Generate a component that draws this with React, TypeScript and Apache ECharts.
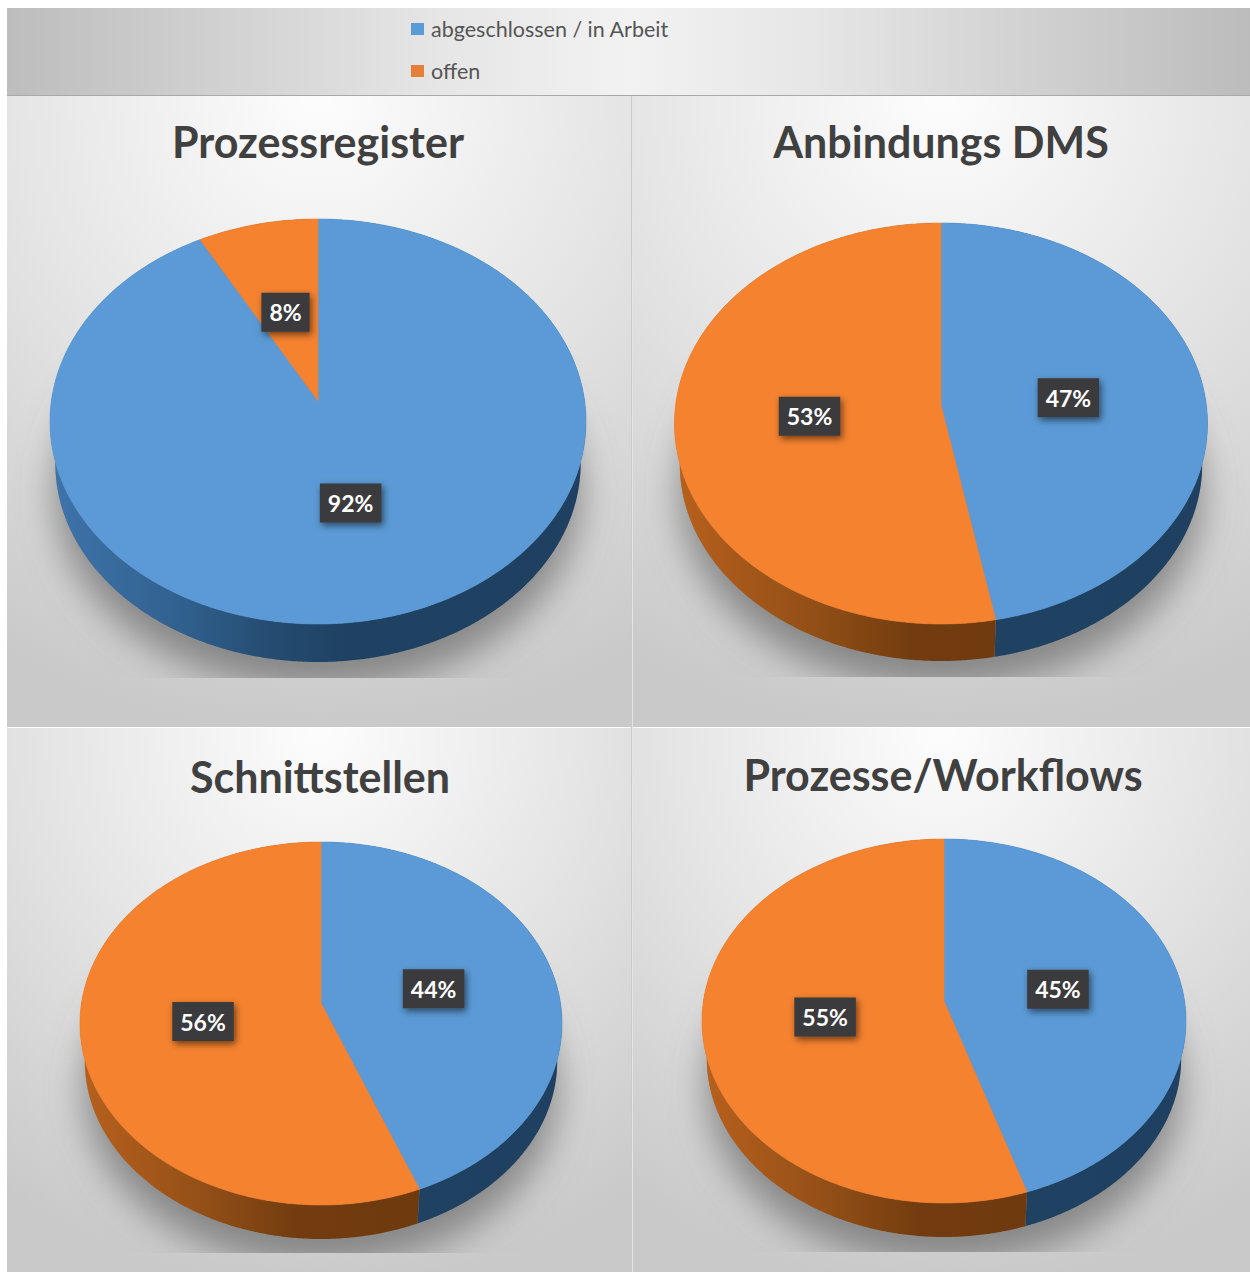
import React, { useEffect, useRef } from "react";
import * as echarts from "echarts";

// Chart content
const categories = ["Prozessregister", "Anbindungs DMS", "Schnittstellen", "Prozesse/Workflows"];
const seriesNames = ["abgeschlossen / in Arbeit", "offen"];
const doneValues = [92, 47, 44, 45];
const openValues = [8, 53, 56, 55];

// Pie geometry in page pixels: centre column, half width, back edge, front edge,
// vanishing hub of the slices, rim depth and the y where the cast shadow stops.
const pieLayout = [
  { cx: 318, rx: 268, back: 219, front: 624, hub: 401, depth: 38, shadowEnd: 678, titleX: 318, titleY: 120 },
  { cx: 941, rx: 266.5, back: 223, front: 624, hub: 405, depth: 37, shadowEnd: 677, titleX: 941, titleY: 120 },
  { cx: 321, rx: 241, back: 842, front: 1205, hub: 1003, depth: 34, shadowEnd: 1253, titleX: 320, titleY: 755 },
  { cx: 944, rx: 242, back: 839, front: 1203, hub: 1001, depth: 34, shadowEnd: 1252, titleX: 943, titleY: 753 },
];

const FONT = "Lato, 'Open Sans', sans-serif";
const BLUE = "#5b9ad6";
const ORANGE = "#f5822f";
const LOWER_SCALE = 0.98;

type Pie = (typeof pieLayout)[number];

// Tilted-disc projection: front edge is nearer the viewer than the back edge.
function projector(p: Pie) {
  const far = p.hub - p.back;
  const near = p.front - p.hub;
  const k = (near - far) / (near + far);
  const b = far * (1 + k);
  const a = p.rx * Math.sqrt(1 - k * k);
  const face = (theta: number, r = 1): [number, number] => {
    const u = r * Math.sin(theta);
    const v = -r * Math.cos(theta);
    const w = 1 - k * v;
    return [p.cx + (a * u) / w, p.hub + (b * v) / w];
  };
  const lift = p.depth + near * (1 - LOWER_SCALE);
  const lower = (theta: number): [number, number] => {
    const [x, y] = face(theta);
    return [p.cx + (x - p.cx) * LOWER_SCALE, p.hub + (y - p.hub) * LOWER_SCALE + lift];
  };
  return { face, lower };
}

function sweep(from: number, to: number) {
  const n = Math.max(2, Math.ceil(Math.abs(to - from) / (Math.PI / 360)));
  const out: number[] = [];
  for (let i = 0; i <= n; i++) out.push(from + ((to - from) * i) / n);
  return out;
}

function rimFill(p: Pie, statusIndex: number) {
  const stops =
    statusIndex === 0
      ? [
          { offset: 0, color: "#3f74ab" },
          { offset: 0.25, color: "#30608d" },
          { offset: 0.42, color: "#244b70" },
          { offset: 0.55, color: "#1f4263" },
          { offset: 1, color: "#1f4060" },
        ]
      : [
          { offset: 0, color: "#b8601d" },
          { offset: 0.25, color: "#945017" },
          { offset: 0.45, color: "#723c0f" },
          { offset: 1, color: "#6a370c" },
        ];
  return new echarts.graphic.LinearGradient(p.cx - p.rx, 0, p.cx + p.rx, 0, stops, true);
}

function pieSliceRenderer(p: Pie, statusIndex: number, total: number) {
  const { face, lower } = projector(p);
  const color = statusIndex === 0 ? BLUE : ORANGE;
  return (_params: any, api: any) => {
    const value = api.value(0);
    const start = api.value(1);
    const a0 = (start / total) * Math.PI * 2;
    const a1 = ((start + value) / total) * Math.PI * 2;
    const thetas = sweep(a0, a1);
    const rimTop = thetas.map((t) => face(t));
    const rimBottom = thetas.map((t) => lower(t)).reverse();
    const mid = (a0 + a1) / 2;
    const [lx, ly] = face(mid, 0.49);
    const children: any[] = [];
    if (statusIndex === 0) {
      children.push({
        type: "polygon",
        z2: 1,
        shape: { points: sweep(0, Math.PI * 2).map((t) => lower(t)) },
        style: {
          fill: "#8d8d8d",
          shadowBlur: 36,
          shadowColor: "rgba(110,110,110,0.75)",
          shadowOffsetY: 28,
        },
        clipPath: {
          type: "rect",
          shape: { x: p.cx - p.rx - 60, y: p.back, width: p.rx * 2 + 120, height: p.shadowEnd - p.back },
        },
      });
    }
    children.push({
      type: "polygon",
      z2: 2,
      shape: { points: [...rimTop, ...rimBottom] },
      style: { fill: rimFill(p, statusIndex) },
    });
    children.push({
      type: "polygon",
      z2: 3 + statusIndex,
      shape: { points: [face(0, 0), ...rimTop] },
      style: { fill: color, stroke: color, lineWidth: 0.6 },
    });
    children.push({
      type: "text",
      x: lx - 1.5,
      y: ly + 2,
      z2: 10,
      style: {
        text: `${value}%`,
        fill: "#ffffff",
        font: `bold 23px ${FONT}`,
        align: "center",
        verticalAlign: "middle",
        backgroundColor: "#3a3a3c",
        padding: [8, 8, 8, 8],
        shadowBlur: 7,
        shadowOffsetX: 2,
        shadowOffsetY: 3,
        shadowColor: "rgba(0,0,0,0.55)",
      },
    });
    return { type: "group", children };
  };
}

function panelGlow(x: number, y: number, r: number) {
  return new echarts.graphic.RadialGradient(
    x,
    y,
    r,
    [
      { offset: 0, color: "#fdfdfd" },
      { offset: 0.5, color: "#e4e4e4" },
      { offset: 1, color: "#c9c9c9" },
    ],
    true
  );
}

function panelRect(x: number, y: number, width: number, height: number, fill: any) {
  return { type: "rect", z: 0, silent: true, shape: { x, y, width, height }, style: { fill } };
}

function buildOption() {
  const series: any[] = [];
  pieLayout.forEach((p, i) => {
    const total = doneValues[i] + openValues[i];
    series.push({
      type: "custom",
      name: seriesNames[0],
      coordinateSystem: "none",
      silent: true,
      itemStyle: { color: "#5b9bd5" },
      renderItem: pieSliceRenderer(p, 0, total),
      data: [[doneValues[i], 0]],
    });
    series.push({
      type: "custom",
      name: seriesNames[1],
      coordinateSystem: "none",
      silent: true,
      itemStyle: { color: "#e57f38" },
      renderItem: pieSliceRenderer(p, 1, total),
      data: [[openValues[i], doneValues[i]]],
    });
  });

  return {
    animation: false,
    backgroundColor: "#ffffff",
    title: categories.map((text, i) => ({
      text,
      left: pieLayout[i].titleX,
      top: pieLayout[i].titleY,
      padding: 0,
      textAlign: "center",
      textStyle: { fontFamily: FONT, fontWeight: "bold", fontSize: 43, color: "#404040" },
    })),
    legend: {
      orient: "vertical",
      left: 411,
      top: 18,
      padding: 0,
      itemGap: 20,
      itemWidth: 13,
      itemHeight: 12,
      icon: "rect",
      data: seriesNames,
      selectedMode: false,
      textStyle: { fontFamily: FONT, fontSize: 21.5, color: "#555555", padding: [0, 0, 0, 2] },
    },
    graphic: {
      elements: [
        panelRect(
          7,
          8,
          1243,
          87,
          new echarts.graphic.LinearGradient(
            0,
            0,
            1,
            0,
            [
              { offset: 0, color: "#bdbdbd" },
              { offset: 0.35, color: "#e6e6e6" },
              { offset: 0.5, color: "#f2f2f2" },
              { offset: 0.65, color: "#e6e6e6" },
              { offset: 1, color: "#bcbcbc" },
            ]
          )
        ),
        panelRect(7, 95, 1243, 1, "#a9a9a9"),
        panelRect(7, 96, 624, 631, panelGlow(319, 96, 640)),
        panelRect(633, 96, 617, 631, panelGlow(941, 96, 640)),
        panelRect(7, 728, 624, 544, panelGlow(319, 728, 560)),
        panelRect(633, 728, 617, 544, panelGlow(941, 728, 560)),
        panelRect(631, 96, 1.5, 1176, "#cacaca"),
      ],
    },
    series,
  };
}

export default function App() {
  const ref = useRef<HTMLDivElement>(null);
  useEffect(() => {
    const chart = echarts.init(ref.current!, null, { renderer: "svg" });
    chart.setOption(buildOption() as any);
    return () => chart.dispose();
  }, []);
  return <div ref={ref} style={{ position: "absolute", left: 0, top: 0, width: 1250, height: 1272 }} />;
}
